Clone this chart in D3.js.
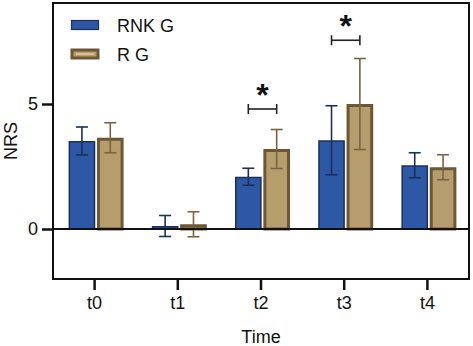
<!DOCTYPE html>
<html>
<head>
<meta charset="utf-8">
<script src="https://cdn.jsdelivr.net/npm/d3@7"></script>
<style>
  body { margin: 0; background: #fff; }
  text { font-family: Arial, "Liberation Sans", sans-serif; fill: #111; }
</style>
</head>
<body>
<svg id="chart" width="473" height="346"></svg>
<script>
// categories and series
const times = ['t0', 't1', 't2', 't3', 't4'];
const seriesNames = ['RNK G', 'R G'];
const rnkMean = [3.52, 0.12, 2.09, 3.55, 2.55];
const rnkErr = [0.56, 0.42, 0.34, 1.38, 0.5];
const rgMean = [3.65, 0.19, 3.2, 5.0, 2.47];
const rgErr = [0.6, 0.5, 0.78, 1.82, 0.5];
const yTicks = [0, 5];
// significance: [category index, bracket level, label]
const sigMarks = [[2, 4.8, '*'], [3, 7.55, '*']];

const fills = ['#2d58a6', '#b59d6d'];
const strokes = ['#1d2f5c', '#6e5833'];
const errColors = ['#1d2f5c', '#7a6440'];
const fontSize = '18px';

const svg = d3.select('#chart');
const margin = { left: 53, right: 4, top: 3, bottom: 67 };
const width = 473 - margin.left - margin.right;
const height = 346 - margin.top - margin.bottom;

const x = d3.scaleBand().domain(times).range([margin.left, margin.left + width]).padding(0);
const y = d3.scaleLinear().domain([-2, 9.04]).range([margin.top + height, margin.top]);
const xs = d3.scaleBand().domain(seriesNames).range([-26, 29]).paddingInner(0.06);

const rows = times.map((t, i) => ({
  t,
  vals: [
    { s: 0, name: seriesNames[0], v: rnkMean[i], e: rnkErr[i] },
    { s: 1, name: seriesNames[1], v: rgMean[i], e: rgErr[i] }
  ]
}));

const groups = svg.append('g').selectAll('g')
  .data(rows).enter().append('g')
  .attr('transform', d => `translate(${x(d.t) + x.bandwidth() / 2},0)`);

// bars
groups.selectAll('rect').data(d => d.vals).enter().append('rect')
  .attr('x', d => xs(d.name) + (d.s === 1 ? 1.5 : 0.75))
  .attr('width', d => xs.bandwidth() - (d.s === 1 ? 3 : 1.5))
  .attr('y', d => y(Math.max(0, d.v)) + (d.s === 1 ? 1.5 : 0.75))
  .attr('height', d => Math.max(0, y(0) - y(d.v) - (d.s === 1 ? 1.5 : 0.75)))
  .attr('fill', d => fills[d.s])
  .attr('stroke', d => strokes[d.s])
  .attr('stroke-width', d => d.s === 1 ? 3 : 1.5);

// error bars
const err = groups.selectAll('g.err').data(d => d.vals).enter().append('g')
  .attr('class', 'err')
  .attr('stroke', d => errColors[d.s])
  .attr('stroke-width', 1.6)
  .attr('transform', d => `translate(${xs(d.name) + xs.bandwidth() / 2},0)`);
err.append('line')
  .attr('y1', d => y(d.v - d.e)).attr('y2', d => y(d.v + d.e));
err.append('line')
  .attr('x1', -6).attr('x2', 6)
  .attr('y1', d => y(d.v + d.e)).attr('y2', d => y(d.v + d.e));
err.append('line')
  .attr('x1', -6).attr('x2', 6)
  .attr('y1', d => y(d.v - d.e)).attr('y2', d => y(d.v - d.e));

// zero line
svg.append('line')
  .attr('x1', margin.left).attr('x2', margin.left + width)
  .attr('y1', y(0)).attr('y2', y(0))
  .attr('stroke', '#111').attr('stroke-width', 2);

// frame
svg.append('rect')
  .attr('x', margin.left).attr('y', margin.top)
  .attr('width', width).attr('height', height)
  .attr('fill', 'none').attr('stroke', '#111').attr('stroke-width', 2);

// axes
const yAxis = svg.append('g')
  .attr('transform', `translate(${margin.left},0)`)
  .call(d3.axisLeft(y).tickValues(yTicks).tickSize(11).tickPadding(4));
const xAxis = svg.append('g')
  .attr('transform', `translate(0,${margin.top + height})`)
  .call(d3.axisBottom(x).tickSize(11).tickPadding(6));
[yAxis, xAxis].forEach(a => {
  a.select('.domain').remove();
  a.selectAll('line').attr('stroke', '#111').attr('stroke-width', 2.5);
  a.selectAll('text').style('font-size', fontSize).style('font-family', 'Arial, "Liberation Sans", sans-serif').attr('fill', '#111');
});

// axis titles
svg.append('text')
  .attr('transform', `translate(${17},${margin.top + height / 2}) rotate(-90)`)
  .attr('text-anchor', 'middle')
  .style('font-size', fontSize)
  .text('NRS');
svg.append('text')
  .attr('x', margin.left + width / 2).attr('y', 343)
  .attr('text-anchor', 'middle')
  .style('font-size', fontSize)
  .text('Time');

// significance brackets
sigMarks.forEach(([i, lvl, lab]) => {
  const cx = x(times[i]) + x.bandwidth() / 2;
  const x1 = cx + xs(seriesNames[0]) + xs.bandwidth() / 2;
  const x2 = cx + xs(seriesNames[1]) + xs.bandwidth() / 2;
  const g = svg.append('g').attr('stroke', '#222').attr('stroke-width', 1.6);
  g.append('line').attr('x1', x1).attr('x2', x2).attr('y1', y(lvl)).attr('y2', y(lvl));
  g.append('line').attr('x1', x1).attr('x2', x1).attr('y1', y(lvl) - 5).attr('y2', y(lvl) + 5);
  g.append('line').attr('x1', x2).attr('x2', x2).attr('y1', y(lvl) - 5).attr('y2', y(lvl) + 5);
  svg.append('text')
    .attr('x', (x1 + x2) / 2).attr('y', y(lvl) - 3)
    .attr('text-anchor', 'middle')
    .style('font-size', '32px').style('font-weight', 'bold')
    .text(lab);
});

// legend
const legend = svg.append('g').attr('transform', 'translate(71,20)');
seriesNames.forEach((name, i) => {
  const row = legend.append('g').attr('transform', `translate(0,${i * 29})`);
  row.append('rect')
    .attr('x', i === 1 ? 1 : 0.5).attr('y', i === 1 ? 1 : 0.5)
    .attr('width', i === 1 ? 26 : 27).attr('height', i === 1 ? 8 : 9)
    .attr('fill', fills[i]).attr('stroke', strokes[i])
    .attr('stroke-width', i === 1 ? 3 : 1.2);
  if (i === 1) {
    row.append('line').attr('x1', 5).attr('x2', 23).attr('y1', 5).attr('y2', 5)
      .attr('stroke', '#e9dcc0').attr('stroke-width', 1.2);
  }
  row.append('text')
    .attr('x', 46).attr('y', 12)
    .style('font-size', fontSize)
    .text(name);
});
</script>
</body>
</html>
